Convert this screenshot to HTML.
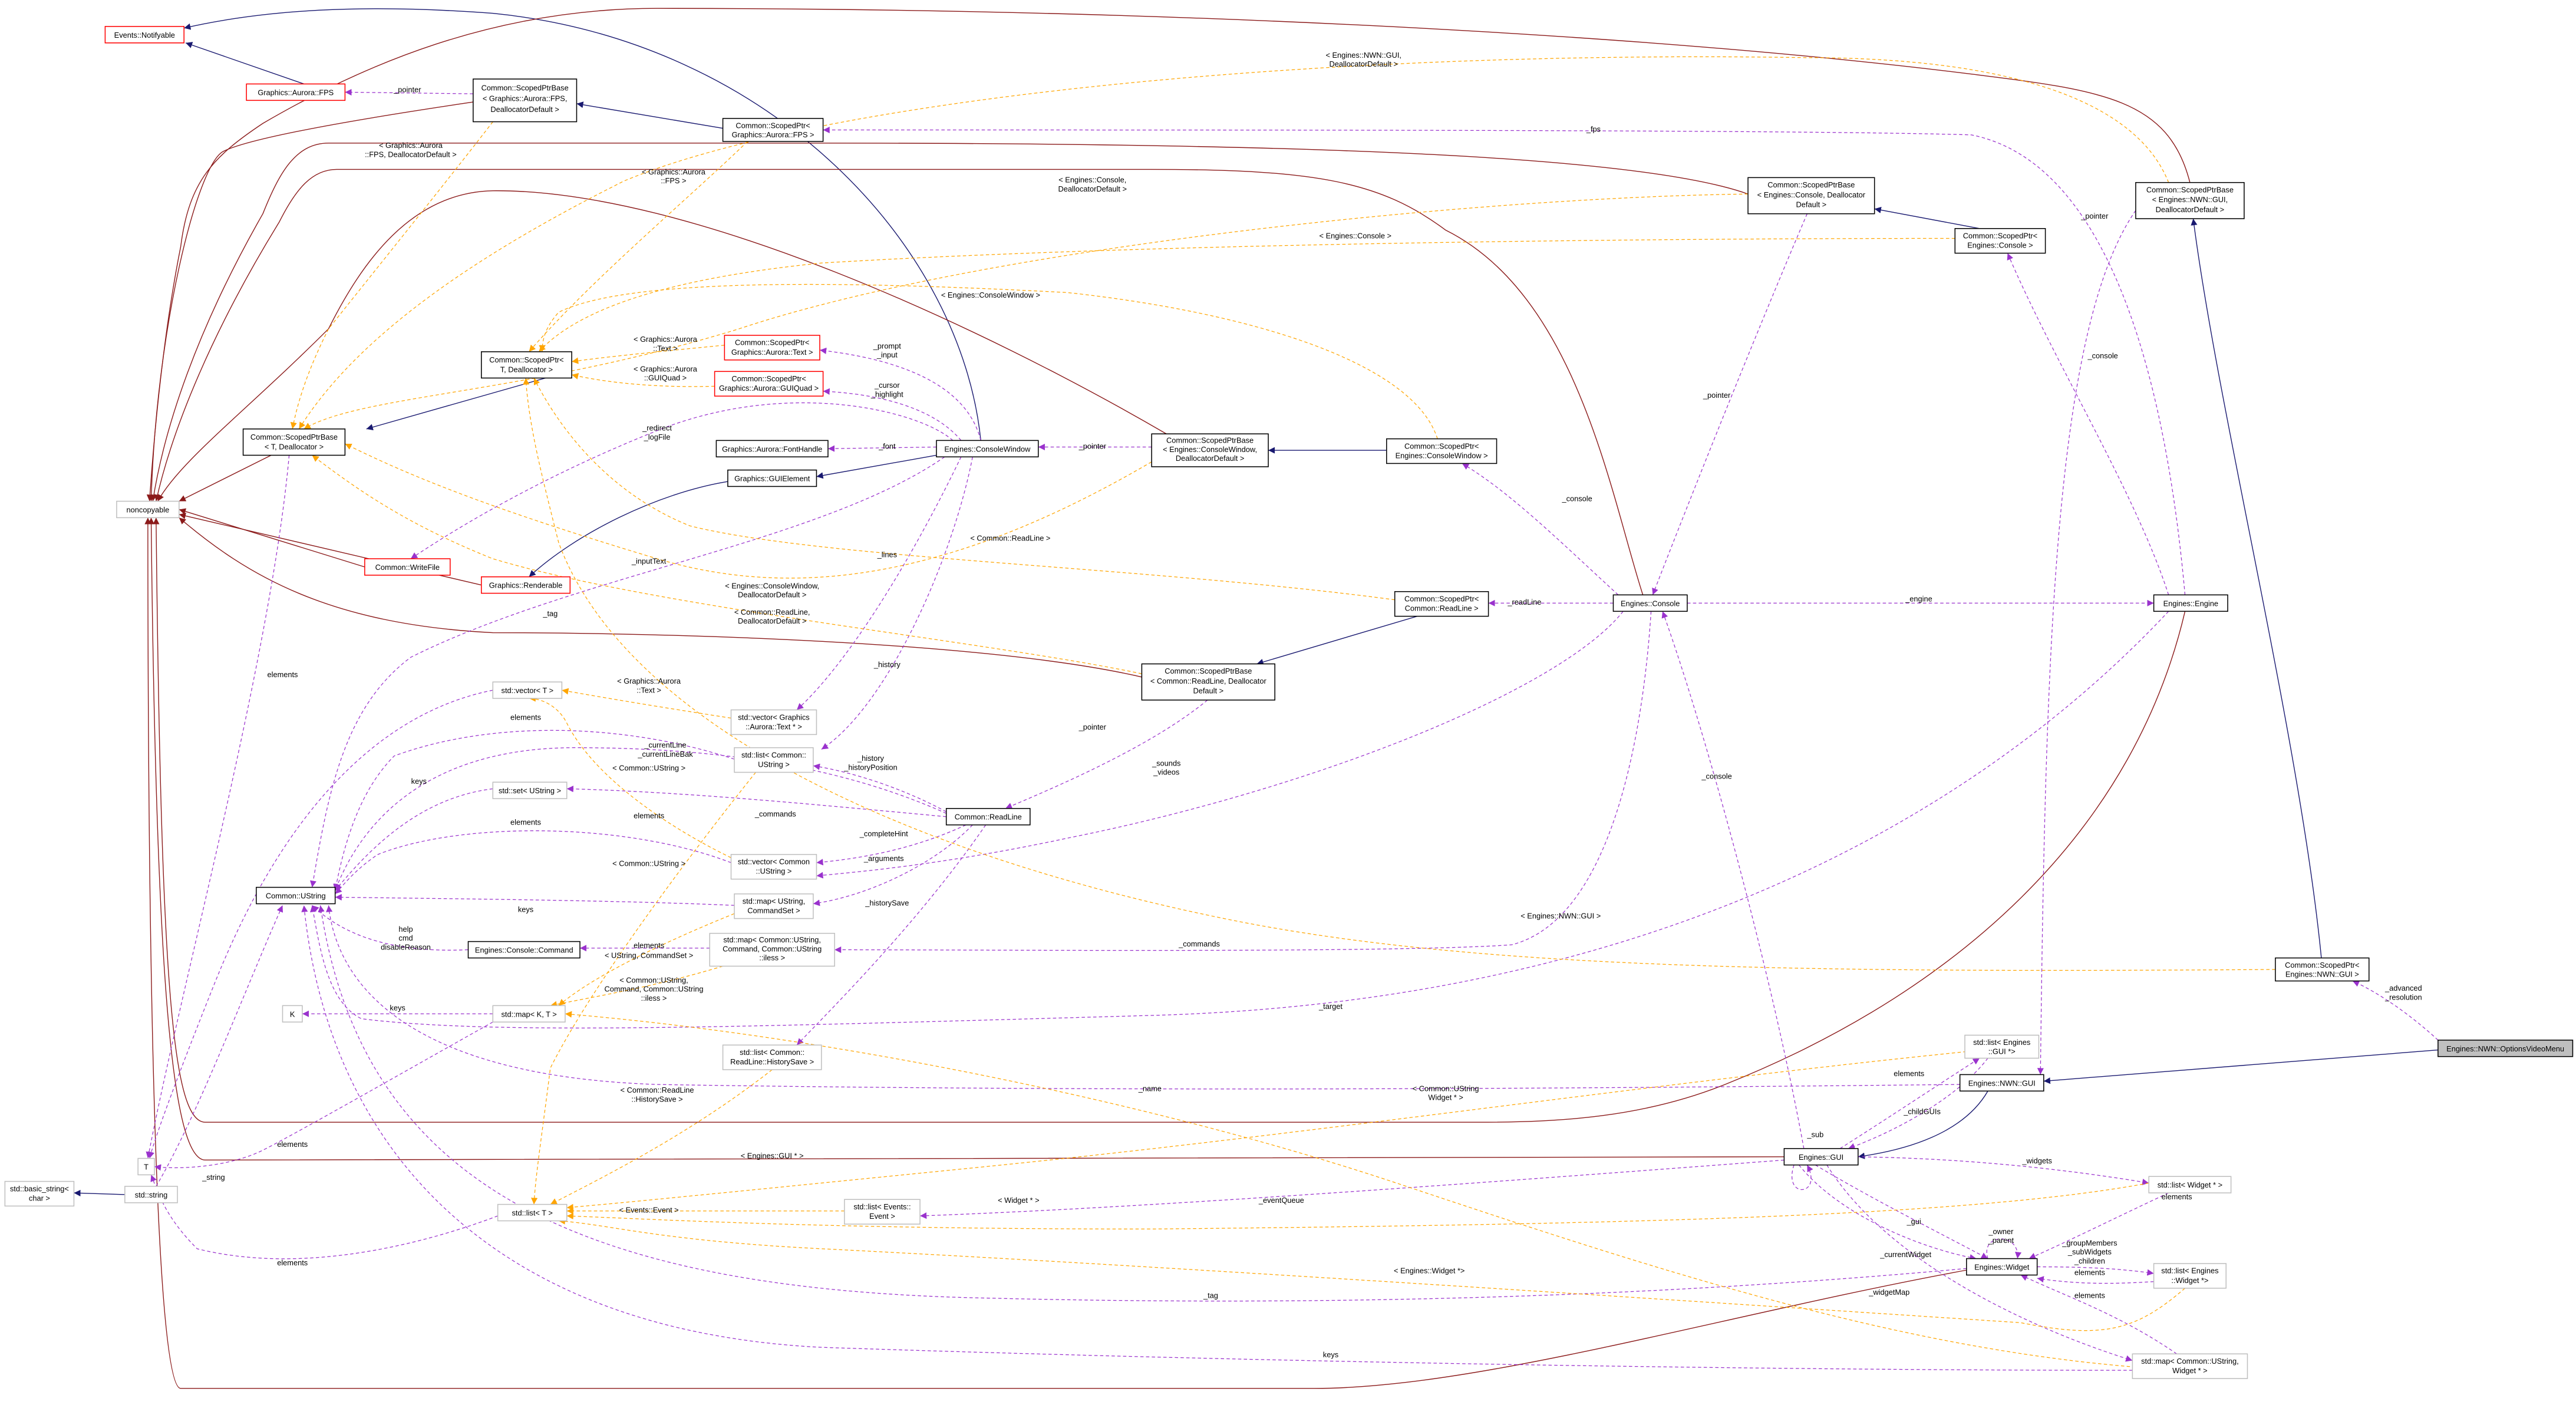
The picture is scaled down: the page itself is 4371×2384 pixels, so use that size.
<!DOCTYPE html>
<html><head><meta charset="utf-8"><style>
html,body{margin:0;padding:0;background:#fff}
svg{display:block}
text{font-family:"Liberation Sans",sans-serif;font-size:4.6px;fill:#000}
.n{fill:#fff;stroke:#000;stroke-width:0.55}
.r{fill:#fff;stroke:#f00;stroke-width:0.55}
.g{fill:#fff;stroke:#bfbfbf;stroke-width:0.55}
.B{fill:none;stroke:#191970;stroke-width:0.5}
.R{fill:none;stroke:#8b1a1a;stroke-width:0.5}
.P{fill:none;stroke:#9a32cd;stroke-width:0.45;stroke-dasharray:2,1.5}
.O{fill:none;stroke:#ffa500;stroke-width:0.45;stroke-dasharray:2,1.5}
</style></head><body>
<svg width="4371" height="2384" viewBox="0 0 1568 855" xmlns="http://www.w3.org/2000/svg">
<defs>
<marker id="mb" viewBox="0 0 10 10" refX="10" refY="5" markerWidth="4" markerHeight="4" markerUnits="userSpaceOnUse" orient="auto"><path d="M0,0L10,5L0,10z" fill="#191970"/></marker>
<marker id="mr" viewBox="0 0 10 10" refX="10" refY="5" markerWidth="4" markerHeight="4" markerUnits="userSpaceOnUse" orient="auto"><path d="M0,0L10,5L0,10z" fill="#8b1a1a"/></marker>
<marker id="mp" viewBox="0 0 10 10" refX="10" refY="5" markerWidth="4" markerHeight="4" markerUnits="userSpaceOnUse" orient="auto"><path d="M0,0L10,5L0,10z" fill="#9a32cd"/></marker>
<marker id="mo" viewBox="0 0 10 10" refX="10" refY="5" markerWidth="4" markerHeight="4" markerUnits="userSpaceOnUse" orient="auto"><path d="M0,0L10,5L0,10z" fill="#ffa500"/></marker>
</defs>

<!-- blue inheritance -->
<g marker-end="url(#mb)">
<path class="B" d="M185,51 L113,26"/>
<path class="B" d="M597,268 C585,150 470,25 300,8 C220,2 160,6 112,17"/>
<path class="B" d="M440,78 L351,63"/>
<path class="B" d="M332,230 L223,261"/>
<path class="B" d="M570,277 L497,290"/>
<path class="B" d="M443,293 C400,300 350,325 322,351"/>
<path class="B" d="M844,274 L772,274"/>
<path class="B" d="M1205,139 L1141,127"/>
<path class="B" d="M866,374 L765,404"/>
<path class="B" d="M1413,583 C1400,450 1350,250 1335,133"/>
<path class="B" d="M1484,639 L1244,658"/>
<path class="B" d="M1210,664 C1195,690 1160,700 1131,704"/>
<path class="B" d="M76,727 L45,726"/>
</g>

<!-- red to noncopyable -->
<g marker-end="url(#mr)">
<path class="R" d="M288,62 C200,75 150,85 136,92 C120,100 95,200 92,305"/>
<path class="R" d="M1064,118 C1000,95 800,87 500,87 L200,87 C180,87 170,105 160,130 C120,200 100,260 93,305"/>
<path class="R" d="M1333,111 C1320,60 1280,55 1200,45 C1000,20 700,5 400,5 C300,5 220,40 160,75 C130,95 115,110 110,150 C100,200 94,260 91,305"/>
<path class="R" d="M1000,362 C980,300 960,180 880,140 C840,110 800,103 700,103 L205,103 C190,103 180,115 170,135 C130,200 105,260 95,305"/>
<path class="R" d="M710,264 C600,200 420,115 300,116 C250,117 220,160 200,200 C150,250 110,280 96,305"/>
<path class="R" d="M165,277 L109,305"/>
<path class="R" d="M222,345 L109,310"/>
<path class="R" d="M293,356 L109,313"/>
<path class="R" d="M695,412 C600,390 400,385 300,385 C200,380 150,350 109,315"/>
<path class="R" d="M1330,372 C1300,500 1200,600 1050,660 C1000,680 950,683 900,683 L125,683 C105,683 98,600 95,315"/>
<path class="R" d="M1086,704 L125,706 C105,706 95,600 92,315"/>
<path class="R" d="M1197,773 C1050,800 900,845 800,845 L110,845 C95,845 90,600 90,315"/>
</g>

<!-- purple usage -->
<g marker-end="url(#mp)">
<path class="P" d="M288,57 L210,56"/>
<path class="P" d="M176,277 C165,400 110,600 90,705"/>
<path class="P" d="M1100,130 C1070,200 1030,300 1006,362"/>
<path class="P" d="M701,272 L632,272"/>
<path class="P" d="M735,426 C700,455 640,480 612,492"/>
<path class="P" d="M1300,128 C1250,200 1245,400 1242,654"/>
<path class="P" d="M597,268 C590,240 560,220 499,213"/>
<path class="P" d="M585,268 C570,250 540,240 501,238"/>
<path class="P" d="M570,272 L504,273"/>
<path class="P" d="M580,268 C560,250 480,230 400,262 C330,290 280,320 250,340"/>
<path class="P" d="M585,278 C560,330 520,400 485,432"/>
<path class="P" d="M592,278 C580,340 540,430 500,456"/>
<path class="P" d="M575,278 C500,330 350,350 250,400 C210,430 200,480 190,540"/>
<path class="P" d="M985,362 C950,330 920,300 890,282"/>
<path class="P" d="M982,367 L906,367"/>
<path class="P" d="M1027,367 L1311,367"/>
<path class="P" d="M1320,362 C1300,300 1250,220 1222,154"/>
<path class="P" d="M1330,362 C1320,250 1290,100 1200,82 C1100,79 800,79 501,79"/>
<path class="P" d="M988,372 C950,420 800,480 650,510 C580,525 530,530 497,533"/>
<path class="P" d="M1005,372 C1000,450 980,560 920,575 C850,580 600,578 508,578"/>
<path class="P" d="M1320,372 C1200,500 1000,610 700,618 C450,625 300,630 220,620 C200,610 195,580 190,551"/>
<path class="P" d="M1098,699 C1080,600 1040,450 1012,372"/>
<path class="P" d="M1092,709 C1085,730 1110,728 1100,709"/>
<path class="P" d="M1120,699 C1150,680 1180,660 1205,644"/>
<path class="P" d="M1210,644 C1190,670 1150,690 1125,699"/>
<path class="P" d="M1130,704 C1200,705 1260,712 1308,720"/>
<path class="P" d="M1105,709 C1140,730 1180,750 1210,766"/>
<path class="P" d="M1095,709 C1120,740 1170,760 1203,766"/>
<path class="P" d="M1086,706 C900,720 700,735 560,740"/>
<path class="P" d="M1112,709 C1150,770 1240,810 1298,828"/>
<path class="P" d="M1210,766 C1205,750 1230,750 1228,766"/>
<path class="P" d="M1240,771 C1270,771 1290,772 1311,775"/>
<path class="P" d="M1311,780 C1280,782 1260,781 1240,778"/>
<path class="P" d="M1320,726 C1290,740 1260,755 1235,766"/>
<path class="P" d="M1325,824 C1290,800 1260,790 1230,776"/>
<path class="P" d="M1298,834 C1100,834 800,830 500,820 C300,810 200,700 185,551"/>
<path class="P" d="M1197,772 C1000,790 800,795 600,790 C350,785 220,720 195,551"/>
<path class="P" d="M1193,660 C1000,662 700,665 400,660 C250,655 205,600 200,551"/>
<path class="P" d="M1484,633 C1470,620 1450,605 1432,597"/>
<path class="P" d="M576,494 C550,480 520,470 495,466"/>
<path class="P" d="M576,495 C520,470 450,455 350,455 C260,455 220,500 204,542"/>
<path class="P" d="M576,497 C500,490 420,482 345,480"/>
<path class="P" d="M588,502 C560,515 530,522 497,525"/>
<path class="P" d="M592,502 C570,525 530,545 495,550"/>
<path class="P" d="M600,502 C560,560 510,610 485,636"/>
<path class="P" d="M300,420 C200,440 150,550 130,600 C110,650 95,690 91,705"/>
<path class="P" d="M447,462 C380,440 300,438 240,460 C220,480 210,510 204,542"/>
<path class="P" d="M300,480 C260,485 230,510 204,542"/>
<path class="P" d="M445,525 C380,500 280,500 230,520 C215,530 208,540 204,544"/>
<path class="P" d="M447,551 C380,548 280,547 204,546"/>
<path class="P" d="M432,577 L353,577"/>
<path class="P" d="M285,578 C240,580 210,570 190,551"/>
<path class="P" d="M300,617 L184,617"/>
<path class="P" d="M300,622 C250,650 180,690 160,700 C140,710 110,712 94,710"/>
<path class="P" d="M303,740 C250,760 180,775 120,760 C100,740 96,725 92,715"/>
<path class="P" d="M95,722 C120,680 150,600 172,551"/>
</g>

<!-- orange template -->
<g marker-end="url(#mo)">
<path class="O" d="M300,74 C280,100 240,150 200,200 C190,220 182,240 178,261"/>
<path class="O" d="M1064,118 C900,120 600,150 450,200 C320,240 220,240 185,261"/>
<path class="O" d="M1320,111 C1300,60 1220,35 1100,35 C800,30 500,60 380,110 C300,150 220,200 182,261"/>
<path class="O" d="M701,281 C600,340 500,370 400,340 C300,310 250,290 210,270"/>
<path class="O" d="M695,410 C600,390 400,370 300,340 C250,320 220,300 190,277"/>
<path class="O" d="M455,86 C420,120 360,170 322,214"/>
<path class="O" d="M441,210 C400,214 370,217 348,220"/>
<path class="O" d="M435,235 C400,236 370,233 348,228"/>
<path class="O" d="M1190,145 C1000,145 700,148 500,160 C400,170 350,190 328,214"/>
<path class="O" d="M875,267 C860,220 760,190 650,178 C500,170 380,170 340,190 C333,198 330,205 330,214"/>
<path class="O" d="M849,365 C700,345 500,340 420,320 C370,300 340,260 325,230"/>
<path class="O" d="M1385,590 C1100,592 900,590 750,560 C550,520 380,440 340,330 C330,290 322,260 320,230"/>
<path class="O" d="M445,437 C400,430 370,425 342,420"/>
<path class="O" d="M460,470 C420,520 360,600 335,650 C330,690 326,715 325,733"/>
<path class="O" d="M445,522 C400,500 360,470 345,440 C340,430 330,425 322,425"/>
<path class="O" d="M447,556 C400,575 360,595 340,612"/>
<path class="O" d="M440,588 C400,600 370,605 335,612"/>
<path class="O" d="M470,651 C420,690 370,715 335,733"/>
<path class="O" d="M514,737 L345,737"/>
<path class="O" d="M1197,640 C1000,660 800,690 600,710 C450,725 380,732 345,735"/>
<path class="O" d="M1308,720 C1200,740 1000,745 700,748 C500,748 400,742 345,740"/>
<path class="O" d="M1330,784 C1300,810 1280,815 1230,805 C1000,790 700,770 500,760 C400,755 370,745 340,743"/>
<path class="O" d="M1300,832 C1150,820 1000,770 850,720 C700,670 500,630 344,617"/>
</g>

<!-- nodes -->
<g>
<rect class="r" x="64" y="16" width="48" height="10"/><text x="88" y="22.8" text-anchor="middle">Events::Notifyable</text>
<rect class="r" x="150" y="51" width="60" height="10"/><text x="180" y="57.8" text-anchor="middle">Graphics::Aurora::FPS</text>
<rect class="n" x="288" y="48" width="63" height="26"/><text x="319.5" y="55" text-anchor="middle">Common::ScopedPtrBase<tspan x="319.5" dy="6.5">&lt; Graphics::Aurora::FPS,</tspan><tspan x="319.5" dy="6.5">DeallocatorDefault &gt;</tspan></text>
<rect class="n" x="440" y="72" width="61" height="14"/><text x="470.5" y="78" text-anchor="middle">Common::ScopedPtr&lt;<tspan x="470.5" dy="5.5">Graphics::Aurora::FPS &gt;</tspan></text>
<rect class="n" x="293" y="214" width="55" height="16"/><text x="320.5" y="220.5" text-anchor="middle">Common::ScopedPtr&lt;<tspan x="320.5" dy="6">T, Deallocator &gt;</tspan></text>
<rect class="r" x="441" y="204" width="58" height="15"/><text x="470" y="210" text-anchor="middle">Common::ScopedPtr&lt;<tspan x="470" dy="5.8">Graphics::Aurora::Text &gt;</tspan></text>
<rect class="r" x="435" y="226" width="66" height="15"/><text x="468" y="232" text-anchor="middle">Common::ScopedPtr&lt;<tspan x="468" dy="5.8">Graphics::Aurora::GUIQuad &gt;</tspan></text>
<rect class="n" x="148" y="261" width="62" height="16"/><text x="179" y="267.5" text-anchor="middle">Common::ScopedPtrBase<tspan x="179" dy="6">&lt; T, Deallocator &gt;</tspan></text>
<rect class="g" x="71" y="305" width="38" height="10"/><text x="90" y="311.8" text-anchor="middle">noncopyable</text>
<rect class="n" x="436" y="268" width="68" height="10"/><text x="470" y="274.8" text-anchor="middle">Graphics::Aurora::FontHandle</text>
<rect class="n" x="443" y="286" width="54" height="10"/><text x="470" y="292.8" text-anchor="middle">Graphics::GUIElement</text>
<rect class="n" x="570" y="268" width="62" height="10"/><text x="601" y="274.8" text-anchor="middle">Engines::ConsoleWindow</text>
<rect class="n" x="701" y="264" width="71" height="20"/><text x="736.5" y="269.5" text-anchor="middle">Common::ScopedPtrBase<tspan x="736.5" dy="5.5">&lt; Engines::ConsoleWindow,</tspan><tspan x="736.5" dy="5.5">DeallocatorDefault &gt;</tspan></text>
<rect class="n" x="844" y="267" width="67" height="15"/><text x="877.5" y="273" text-anchor="middle">Common::ScopedPtr&lt;<tspan x="877.5" dy="5.8">Engines::ConsoleWindow &gt;</tspan></text>
<rect class="r" x="222" y="340" width="52" height="10"/><text x="248" y="346.8" text-anchor="middle">Common::WriteFile</text>
<rect class="r" x="293" y="351" width="54" height="10"/><text x="320" y="357.8" text-anchor="middle">Graphics::Renderable</text>
<rect class="n" x="1064" y="108" width="77" height="22"/><text x="1102.5" y="114" text-anchor="middle">Common::ScopedPtrBase<tspan x="1102.5" dy="6">&lt; Engines::Console, Deallocator</tspan><tspan x="1102.5" dy="6">Default &gt;</tspan></text>
<rect class="n" x="1190" y="139" width="55" height="15"/><text x="1217.5" y="145" text-anchor="middle">Common::ScopedPtr&lt;<tspan x="1217.5" dy="5.8">Engines::Console &gt;</tspan></text>
<rect class="n" x="1300" y="111" width="66" height="22"/><text x="1333" y="117" text-anchor="middle">Common::ScopedPtrBase<tspan x="1333" dy="6">&lt; Engines::NWN::GUI,</tspan><tspan x="1333" dy="6">DeallocatorDefault &gt;</tspan></text>
<rect class="n" x="849" y="360" width="57" height="15"/><text x="877.5" y="366" text-anchor="middle">Common::ScopedPtr&lt;<tspan x="877.5" dy="5.8">Common::ReadLine &gt;</tspan></text>
<rect class="n" x="982" y="362" width="45" height="10"/><text x="1004.5" y="368.8" text-anchor="middle">Engines::Console</text>
<rect class="n" x="1311" y="362" width="45" height="10"/><text x="1333.5" y="368.8" text-anchor="middle">Engines::Engine</text>
<rect class="n" x="695" y="404" width="81" height="22"/><text x="735.5" y="410" text-anchor="middle">Common::ScopedPtrBase<tspan x="735.5" dy="6">&lt; Common::ReadLine, Deallocator</tspan><tspan x="735.5" dy="6">Default &gt;</tspan></text>
<rect class="g" x="300" y="415" width="42" height="10"/><text x="321" y="421.8" text-anchor="middle">std::vector&lt; T &gt;</text>
<rect class="g" x="445" y="432" width="52" height="15"/><text x="471" y="438" text-anchor="middle">std::vector&lt; Graphics<tspan x="471" dy="5.8">::Aurora::Text * &gt;</tspan></text>
<rect class="g" x="447" y="455" width="48" height="15"/><text x="471" y="461" text-anchor="middle">std::list&lt; Common::<tspan x="471" dy="5.8">UString &gt;</tspan></text>
<rect class="g" x="300" y="476" width="45" height="10"/><text x="322.5" y="482.8" text-anchor="middle">std::set&lt; UString &gt;</text>
<rect class="n" x="576" y="492" width="51" height="10"/><text x="601.5" y="498.8" text-anchor="middle">Common::ReadLine</text>
<rect class="g" x="445" y="520" width="52" height="15"/><text x="471" y="526" text-anchor="middle">std::vector&lt; Common<tspan x="471" dy="5.8">::UString &gt;</tspan></text>
<rect class="n" x="156" y="540" width="48" height="10"/><text x="180" y="546.8" text-anchor="middle">Common::UString</text>
<rect class="g" x="447" y="544" width="48" height="15"/><text x="471" y="550" text-anchor="middle">std::map&lt; UString,<tspan x="471" dy="5.8">CommandSet &gt;</tspan></text>
<rect class="n" x="285" y="573" width="68" height="10"/><text x="319" y="579.8" text-anchor="middle">Engines::Console::Command</text>
<rect class="g" x="432" y="568" width="76" height="20"/><text x="470" y="573.5" text-anchor="middle">std::map&lt; Common::UString,<tspan x="470" dy="5.5">Command, Common::UString</tspan><tspan x="470" dy="5.5">::iless &gt;</tspan></text>
<rect class="g" x="172" y="612" width="12" height="10"/><text x="178" y="618.8" text-anchor="middle">K</text>
<rect class="g" x="300" y="612" width="44" height="10"/><text x="322" y="618.8" text-anchor="middle">std::map&lt; K, T &gt;</text>
<rect class="g" x="440" y="636" width="60" height="15"/><text x="470" y="642" text-anchor="middle">std::list&lt; Common::<tspan x="470" dy="5.8">ReadLine::HistorySave &gt;</tspan></text>
<rect class="g" x="84" y="705" width="10" height="10"/><text x="89" y="711.8" text-anchor="middle">T</text>
<rect class="g" x="3" y="719" width="42" height="15"/><text x="24" y="725" text-anchor="middle">std::basic_string&lt;<tspan x="24" dy="5.8">char &gt;</tspan></text>
<rect class="g" x="76" y="722" width="32" height="10"/><text x="92" y="728.8" text-anchor="middle">std::string</text>
<rect class="g" x="303" y="733" width="42" height="10"/><text x="324" y="739.8" text-anchor="middle">std::list&lt; T &gt;</text>
<rect class="g" x="514" y="730" width="46" height="15"/><text x="537" y="736" text-anchor="middle">std::list&lt; Events::<tspan x="537" dy="5.8">Event &gt;</tspan></text>
<rect class="n" x="1385" y="583" width="57" height="14"/><text x="1413.5" y="589" text-anchor="middle">Common::ScopedPtr&lt;<tspan x="1413.5" dy="5.5">Engines::NWN::GUI &gt;</tspan></text>
<rect x="1484" y="633" width="82" height="10" fill="#bfbfbf" stroke="#000" stroke-width="0.55"/><text x="1525" y="639.8" text-anchor="middle">Engines::NWN::OptionsVideoMenu</text>
<rect class="g" x="1196" y="630" width="45" height="14"/><text x="1218.5" y="636" text-anchor="middle">std::list&lt; Engines<tspan x="1218.5" dy="5.5">::GUI *&gt;</tspan></text>
<rect class="n" x="1193" y="654" width="51" height="10"/><text x="1218.5" y="660.8" text-anchor="middle">Engines::NWN::GUI</text>
<rect class="n" x="1086" y="699" width="45" height="10"/><text x="1108.5" y="705.8" text-anchor="middle">Engines::GUI</text>
<rect class="g" x="1308" y="716" width="50" height="10"/><text x="1333" y="722.8" text-anchor="middle">std::list&lt; Widget * &gt;</text>
<rect class="n" x="1197" y="766" width="43" height="10"/><text x="1218.5" y="772.8" text-anchor="middle">Engines::Widget</text>
<rect class="g" x="1311" y="769" width="44" height="15"/><text x="1333" y="775" text-anchor="middle">std::list&lt; Engines<tspan x="1333" dy="5.8">::Widget *&gt;</tspan></text>
<rect class="g" x="1298" y="824" width="70" height="15"/><text x="1333" y="830" text-anchor="middle">std::map&lt; Common::UString,<tspan x="1333" dy="5.8">Widget * &gt;</tspan></text>
</g>

<!-- edge labels -->
<g text-anchor="middle">
<text x="248" y="56">_pointer</text>
<text x="250" y="90">&lt; Graphics::Aurora<tspan x="250" dy="5.5">::FPS, DeallocatorDefault &gt;</tspan></text>
<text x="410" y="106">&lt; Graphics::Aurora<tspan x="410" dy="5.5">::FPS &gt;</tspan></text>
<text x="830" y="35">&lt; Engines::NWN::GUI,<tspan x="830" dy="5.5">DeallocatorDefault &gt;</tspan></text>
<text x="970" y="80">_fps</text>
<text x="665" y="111">&lt; Engines::Console,<tspan x="665" dy="5.5">DeallocatorDefault &gt;</tspan></text>
<text x="825" y="145">&lt; Engines::Console &gt;</text>
<text x="1275" y="133">_pointer</text>
<text x="1280" y="218">_console</text>
<text x="1045" y="242">_pointer</text>
<text x="603" y="181">&lt; Engines::ConsoleWindow &gt;</text>
<text x="405" y="208">&lt; Graphics::Aurora<tspan x="405" dy="5.5">::Text &gt;</tspan></text>
<text x="405" y="226">&lt; Graphics::Aurora<tspan x="405" dy="5.5">::GUIQuad &gt;</tspan></text>
<text x="540" y="212">_prompt<tspan x="540" dy="5.5">_input</tspan></text>
<text x="540" y="236">_cursor<tspan x="540" dy="5.5">_highlight</tspan></text>
<text x="400" y="262">_redirect<tspan x="400" dy="5.5">_logFile</tspan></text>
<text x="540" y="273">_font</text>
<text x="665" y="273">_pointer</text>
<text x="960" y="305">_console</text>
<text x="615" y="329">&lt; Common::ReadLine &gt;</text>
<text x="395" y="343">_inputText</text>
<text x="540" y="339">_lines</text>
<text x="470" y="358">&lt; Engines::ConsoleWindow,<tspan x="470" dy="5.5">DeallocatorDefault &gt;</tspan></text>
<text x="470" y="374">&lt; Common::ReadLine,<tspan x="470" dy="5.5">DeallocatorDefault &gt;</tspan></text>
<text x="335" y="375">_tag</text>
<text x="928" y="368">_readLine</text>
<text x="1168" y="366">_engine</text>
<text x="172" y="412">elements</text>
<text x="395" y="416">&lt; Graphics::Aurora<tspan x="395" dy="5.5">::Text &gt;</tspan></text>
<text x="540" y="406">_history</text>
<text x="665" y="444">_pointer</text>
<text x="320" y="438">elements</text>
<text x="405" y="455">_currentLine<tspan x="405" dy="5.5">_currentLineBak</tspan></text>
<text x="395" y="469">&lt; Common::UString &gt;</text>
<text x="255" y="477">keys</text>
<text x="530" y="463">_history<tspan x="530" dy="5.5">_historyPosition</tspan></text>
<text x="710" y="466">_sounds<tspan x="710" dy="5.5">_videos</tspan></text>
<text x="472" y="497">_commands</text>
<text x="395" y="498">elements</text>
<text x="320" y="502">elements</text>
<text x="538" y="509">_completeHint</text>
<text x="538" y="524">_arguments</text>
<text x="395" y="527">&lt; Common::UString &gt;</text>
<text x="320" y="555">keys</text>
<text x="540" y="551">_historySave</text>
<text x="1045" y="474">_console</text>
<text x="247" y="567">help<tspan x="247" dy="5.5">cmd</tspan><tspan x="247" dy="5.5">disableReason</tspan></text>
<text x="395" y="577">elements</text>
<text x="395" y="583">&lt; UString, CommandSet &gt;</text>
<text x="730" y="576">_commands</text>
<text x="950" y="559">&lt; Engines::NWN::GUI &gt;</text>
<text x="398" y="598">&lt; Common::UString,<tspan x="398" dy="5.5">Command, Common::UString</tspan><tspan x="398" dy="5.5">::iless &gt;</tspan></text>
<text x="242" y="615">keys</text>
<text x="810" y="614">_target</text>
<text x="1463" y="603">_advanced<tspan x="1463" dy="5.5">_resolution</tspan></text>
<text x="400" y="665">&lt; Common::ReadLine<tspan x="400" dy="5.5">::HistorySave &gt;</tspan></text>
<text x="700" y="664">_name</text>
<text x="880" y="664">&lt; Common::UString<tspan x="880" dy="5.5">Widget * &gt;</tspan></text>
<text x="1162" y="655">elements</text>
<text x="1170" y="678">_childGUIs</text>
<text x="1105" y="692">_sub</text>
<text x="178" y="698">elements</text>
<text x="130" y="718">_string</text>
<text x="470" y="705">&lt; Engines::GUI * &gt;</text>
<text x="1240" y="708">_widgets</text>
<text x="395" y="738">&lt; Events::Event &gt;</text>
<text x="620" y="732">&lt; Widget * &gt;</text>
<text x="780" y="732">_eventQueue</text>
<text x="1165" y="745">_gui</text>
<text x="1160" y="765">_currentWidget</text>
<text x="1218" y="751">_owner<tspan x="1218" dy="5.5">_parent</tspan></text>
<text x="1325" y="730">elements</text>
<text x="1272" y="758">_groupMembers<tspan x="1272" dy="5.5">_subWidgets</tspan><tspan x="1272" dy="5.5">_children</tspan></text>
<text x="1272" y="776">elements</text>
<text x="1272" y="790">elements</text>
<text x="870" y="775">&lt; Engines::Widget *&gt;</text>
<text x="737" y="790">_tag</text>
<text x="1150" y="788">_widgetMap</text>
<text x="178" y="770">elements</text>
<text x="810" y="826">keys</text>
</g>
</svg>
</body></html>
